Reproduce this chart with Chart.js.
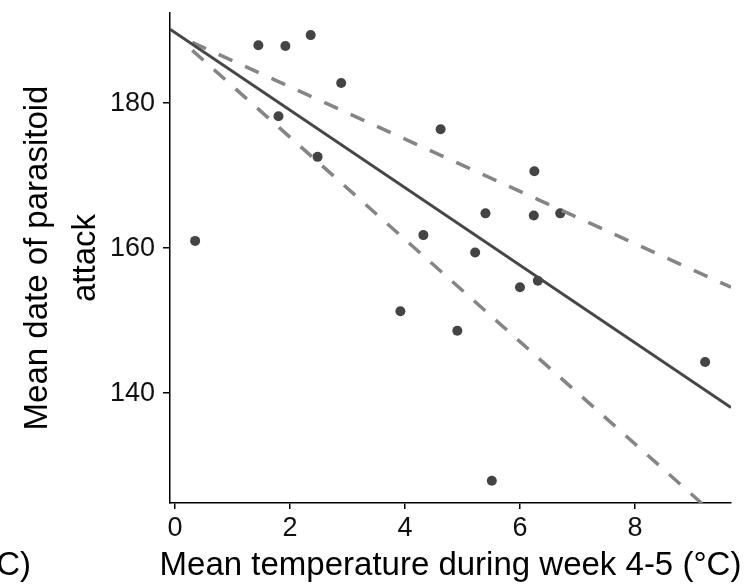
<!DOCTYPE html>
<html>
<head>
<meta charset="utf-8">
<script src="https://cdn.jsdelivr.net/npm/chart.js@4.4.1/dist/chart.umd.min.js"></script>
<style>
  html, body { margin: 0; padding: 0; background: #fff; }
  #wrap { width: 753px; height: 588px; }
</style>
</head>
<body>
<div id="wrap"><canvas id="chart" width="753" height="588"></canvas></div>
<script>
// observed points: mean temperature (week 4-5) vs mean date of attack
const tempX = [0.35, 1.45, 1.80, 1.92, 2.36, 2.48, 2.89, 3.92, 4.32, 4.62, 4.91, 5.22, 5.40, 5.51, 6.00, 6.24, 6.25, 6.31, 6.70, 9.22];
const attackY = [161.0, 188.0, 178.2, 187.9, 189.4, 172.6, 182.8, 151.3, 161.8, 176.4, 148.6, 159.4, 164.8, 127.9, 154.6, 164.5, 170.6, 155.5, 164.8, 144.3];

// fitted line and the two dashed bounds (end points)
const fitX = [-0.087, 9.67];
const fitY = [190.2, 138.0];
const upperX = [0.3, 9.67];
const upperY = [188.4, 154.6];
const lowerX = [0.3, 9.67];
const lowerY = [187.3, 121.2];

const xTicks = [0, 2, 4, 6, 8];
const yTicks = [140, 160, 180];
const xRange = [-0.087, 9.67];
const yRange = [124.83, 192.45];

const xTitle = 'Mean temperature during week 4-5 (\u00B0C)';
const yTitle = ['Mean date of parasitoid', 'attack'];
const cutLabel = '(\u00B0C)';

const FONT = "'Liberation Sans', Arial, sans-serif";

function toPoints(xs, ys) {
  return xs.map((x, i) => ({ x: x, y: ys[i] }));
}

const titlePlugin = {
  id: 'titles',
  afterDraw(chart) {
    const ctx = chart.ctx;
    const area = chart.chartArea;
    ctx.save();
    ctx.fillStyle = '#000';
    ctx.font = '33px ' + FONT;
    ctx.textAlign = 'center';
    ctx.textBaseline = 'alphabetic';
    ctx.fillText(xTitle, (area.left + area.right) / 2, 575);

    // leftover label of the neighbouring panel
    ctx.textAlign = 'right';
    ctx.fillText(cutLabel, 31, 575);

    // rotated two-line y title
    const cy = (area.top + area.bottom) / 2;
    ctx.textAlign = 'center';
    ctx.save();
    ctx.translate(47, cy);
    ctx.rotate(-Math.PI / 2);
    ctx.fillText(yTitle[0], 0, 0);
    ctx.restore();
    ctx.save();
    ctx.translate(95, cy);
    ctx.rotate(-Math.PI / 2);
    ctx.fillText(yTitle[1], 0, 0);
    ctx.restore();
    ctx.restore();
  }
};

var ctxChart = document.getElementById('chart').getContext('2d');

var chart = new Chart(ctxChart, {
  type: 'scatter',
  data: {
    datasets: [
      {
        label: 'fit',
        type: 'line',
        data: toPoints(fitX, fitY),
        borderColor: '#474747',
        borderWidth: 3,
        pointRadius: 0,
        fill: false
      },
      {
        label: 'upper',
        type: 'line',
        data: toPoints(upperX, upperY),
        borderColor: '#858585',
        borderWidth: 3.5,
        borderDash: [15, 14],
        pointRadius: 0,
        fill: false
      },
      {
        label: 'lower',
        type: 'line',
        data: toPoints(lowerX, lowerY),
        borderColor: '#858585',
        borderWidth: 3.5,
        borderDash: [15, 14],
        pointRadius: 0,
        fill: false
      },
      {
        label: 'observed',
        data: toPoints(tempX, attackY),
        backgroundColor: '#444444',
        borderWidth: 0,
        pointRadius: 5,
        pointHoverRadius: 5
      }
    ]
  },
  options: {
    responsive: false,
    animation: false,
    devicePixelRatio: 1,
    layout: { padding: { left: 0, right: 22, top: 13, bottom: 0 } },
    plugins: {
      legend: { display: false },
      tooltip: { enabled: false }
    },
    scales: {
      x: {
        type: 'linear',
        min: xRange[0],
        max: xRange[1],
        afterBuildTicks: (scale) => { scale.ticks = xTicks.map(v => ({ value: v })); },
        afterFit: (scale) => {
          scale.height = 85;
          scale.paddingLeft = 0;
          scale.paddingRight = 0;
        },
        grid: { display: true, drawOnChartArea: false, color: '#000', lineWidth: 1.5, tickLength: 6 },
        border: { display: true, color: '#000', width: 1.5 },
        ticks: { color: '#111', font: { size: 27, family: FONT }, padding: 3, maxRotation: 0 }
      },
      y: {
        type: 'linear',
        min: yRange[0],
        max: yRange[1],
        afterBuildTicks: (scale) => { scale.ticks = yTicks.map(v => ({ value: v })); },
        afterFit: (scale) => {
          scale.width = 170;
          scale.paddingTop = 0;
          scale.paddingBottom = 0;
        },
        grid: { display: true, drawOnChartArea: false, color: '#000', lineWidth: 1.5, tickLength: 7 },
        border: { display: true, color: '#000', width: 1.5 },
        ticks: { color: '#111', font: { size: 27, family: FONT }, padding: 8 }
      }
    }
  },
  plugins: [titlePlugin]
});
</script>
</body>
</html>
